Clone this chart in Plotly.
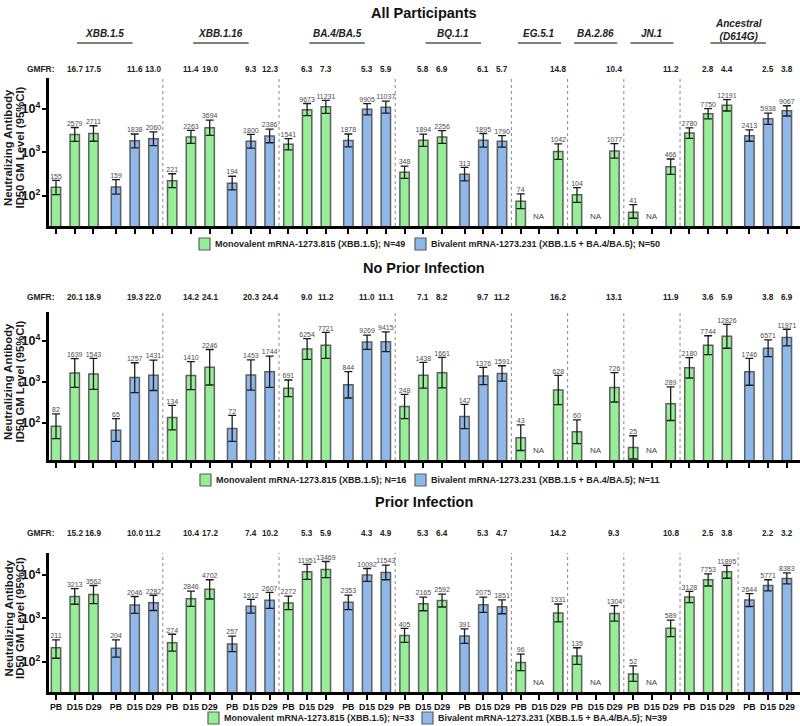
import plotly.graph_objects as go

# ---- data -------------------------------------------------------------
VARIANTS = ["XBB.1.5", "XBB.1.16", "BA.4/BA.5", "BQ.1.1", "EG.5.1", "BA.2.86", "JN.1",
            "Ancestral<br>(D614G)"]
TIMEPOINTS = ["PB", "D15", "D29"]
PANEL_TITLES = ["All Participants", "No Prior Infection", "Prior Infection"]
MONO_N = [49, 16, 33]
BIV_N = [50, 11, 39]

# All participants
ALL_MONO_GM = [[155, 2579, 2711], [221, 2263, 3694], [1541, 9673, 11231], [348, 1894, 2256],
               [74, None, 1042], [104, None, 1077], [41, None, 466], [2780, 7750, 12191]]
ALL_MONO_LO = [[105, 1780, 1800], [153, 1600, 2450], [1140, 7000, 7900], [250, 1370, 1600],
               [50, None, 690], [70, None, 730], [30, None, 310], [2100, 5900, 9000]]
ALL_MONO_HI = [[225, 3740, 4100], [320, 3200, 5550], [2080, 13400, 15900], [480, 2620, 3180],
               [110, None, 1570], [153, None, 1590], [62, None, 700], [3660, 10200, 16400]]
ALL_BIV_GM = [[159, 1838, 2060], [194, 1800, 2386], [1878, 9905, 11037], [313, 1895, 1790],
              None, None, None, [2413, 5938, 9067]]
ALL_BIV_LO = [[108, 1270, 1430], [135, 1250, 1660], [1330, 7350, 8000], [218, 1320, 1320],
              None, None, None, [1800, 4400, 6900]]
ALL_BIV_HI = [[235, 2650, 2970], [280, 2600, 3430], [2650, 13300, 15200], [450, 2720, 2420],
              None, None, None, [3280, 8000, 11900]]
ALL_MONO_GMFR = [[16.7, 17.5], [11.4, 19.0], [6.3, 7.3], [5.8, 6.9],
                 [None, 14.8], [None, 10.4], [None, 11.2], [2.8, 4.4]]
ALL_BIV_GMFR = [[11.6, 13.0], [9.3, 12.3], [5.3, 5.9], [6.1, 5.7], None, None, None, [2.5, 3.8]]

# No prior infection
NPI_MONO_GM = [[82, 1639, 1543], [134, 1410, 2246], [691, 6254, 7721], [248, 1438, 1661],
               [43, None, 628], [60, None, 726], [25, None, 289], [2180, 7744, 12826]]
NPI_MONO_LO = [[41, 730, 650], [67, 640, 830], [430, 3500, 3700], [125, 700, 710],
               [21, None, 275], [31, None, 320], [13, None, 113], [1230, 4550, 6550]]
NPI_MONO_HI = [[165, 3650, 3700], [265, 3080, 6100], [1100, 11200, 15900], [490, 2950, 3900],
               [88, None, 1430], [117, None, 1660], [48, None, 745], [3870, 13200, 25100]]
NPI_BIV_GM = [[65, 1257, 1431], [72, 1453, 1744], [844, 9269, 9415], [142, 1376, 1591],
              None, None, None, [1746, 6571, 11971]]
NPI_BIV_LO = [[35, 540, 610], [35, 620, 730], [400, 6150, 5400], [72, 850, 1030],
              None, None, None, [820, 4100, 7500]]
NPI_BIV_HI = [[125, 2900, 3350], [150, 3400, 4200], [1760, 13600, 16400], [280, 2230, 2450],
              None, None, None, [3720, 10500, 19000]]
NPI_MONO_GMFR = [[20.1, 18.9], [14.2, 24.1], [9.0, 11.2], [7.1, 8.2],
                 [None, 16.2], [None, 13.1], [None, 11.9], [3.6, 5.9]]
NPI_BIV_GMFR = [[19.3, 22.0], [20.3, 24.4], [11.0, 11.1], [9.7, 11.2], None, None, None, [3.8, 6.9]]

# Prior infection
PI_MONO_GM = [[211, 3213, 3562], [274, 2846, 4702], [2272, 11951, 13469], [405, 2165, 2592],
              [96, None, 1331], [135, None, 1304], [52, None, 589], [3128, 7753, 11895]]
PI_MONO_LO = [[120, 2120, 2200], [175, 1900, 2800], [1600, 8000, 8700], [280, 1500, 1830],
              [62, None, 830], [87, None, 860], [35, None, 380], [2320, 5600, 8450]]
PI_MONO_HI = [[320, 4850, 5750], [430, 4250, 7800], [3250, 17700, 20600], [590, 3100, 3650],
              [150, None, 2150], [210, None, 1980], [80, None, 910], [4220, 10700, 16800]]
PI_BIV_GM = [[204, 2046, 2282], [257, 1912, 2607], [2353, 10092, 11543], [391, 2075, 1851],
             None, None, None, [2644, 5771, 8383]]
PI_BIV_LO = [[128, 1300, 1520], [170, 1320, 1700], [1600, 7150, 7800], [265, 1380, 1280],
             None, None, None, [1880, 4300, 6250]]
PI_BIV_HI = [[320, 3200, 3420], [390, 2750, 4000], [3450, 14200, 17000], [575, 3100, 2680],
             None, None, None, [3720, 7800, 11300]]
PI_MONO_GMFR = [[15.2, 16.9], [10.4, 17.2], [5.3, 5.9], [5.3, 6.4],
                [None, 14.2], [None, 9.3], [None, 10.8], [2.5, 3.8]]
PI_BIV_GMFR = [[10.0, 11.2], [7.4, 10.2], [4.3, 4.9], [5.3, 4.7], None, None, None, [2.2, 3.2]]

# ---- styling ----------------------------------------------------------
W, H = 800, 726
GREEN = "#96EE96"
BLUE = "#8FB8EA"
EDGE = "#5f5f5f"
FONT = "Liberation Sans, Arial, sans-serif"


def px(v):
    return v / W


def py(v):
    return 1 - v / H


def note(**kw):
    # annotations: always centre-anchored unless told otherwise
    d = dict(showarrow=False, xanchor="center", yanchor="middle")
    d.update(kw)
    return d


panels = [
    dict(mono=(ALL_MONO_GM, ALL_MONO_LO, ALL_MONO_HI), biv=(ALL_BIV_GM, ALL_BIV_LO, ALL_BIV_HI),
         gmfr=(ALL_MONO_GMFR, ALL_BIV_GMFR), top=78, bot=226, yr=[1.298, 4.716],
         title_y=13, gmfr_y=69, legend_y=244, leg_x=(199, 415), extra_sep=False),
    dict(mono=(NPI_MONO_GM, NPI_MONO_LO, NPI_MONO_HI), biv=(NPI_BIV_GM, NPI_BIV_LO, NPI_BIV_HI),
         gmfr=(NPI_MONO_GMFR, NPI_BIV_GMFR), top=312, bot=460, yr=[1.09, 4.70],
         title_y=268, gmfr_y=297, legend_y=480, leg_x=(200, 415), extra_sep=False),
    dict(mono=(PI_MONO_GM, PI_MONO_LO, PI_MONO_HI), biv=(PI_BIV_GM, PI_BIV_LO, PI_BIV_HI),
         gmfr=(PI_MONO_GMFR, PI_BIV_GMFR), top=553, bot=692, yr=[1.30, 4.51],
         title_y=502, gmfr_y=533, legend_y=718, leg_x=(208, 422), extra_sep=True),
]

# slot layout: 3 mono slots, then 3 biv slots (if any) for each variant
groups = []
s = 0.0
for i in range(len(VARIANTS)):
    mono_x = [s, s + 1, s + 2]
    if ALL_BIV_GM[i] is not None:
        biv_x = [s + 3.2, s + 4.2, s + 5.2]
        end = s + 5.2
    else:
        biv_x = None
        end = s + 2
    groups.append(dict(mono_x=mono_x, biv_x=biv_x, start=s, end=end))
    s = end + 1

tick_vals, tick_text = [], []
for g in groups:
    for xs in (g["mono_x"], g["biv_x"]):
        if xs:
            tick_vals += xs
            tick_text += TIMEPOINTS

X_RANGE = [(49 - 56) / 18.74, (800 - 56) / 18.74]

fig = go.Figure()
shapes, annotations = [], []

for k, p in enumerate(panels):
    sfx = "" if k == 0 else str(k + 1)
    xa, ya = "x" + sfx, "y" + sfx

    for (gm, lo, hi), key, color in ((p["mono"], "mono_x", GREEN), (p["biv"], "biv_x", BLUE)):
        xs, ys, ep, em = [], [], [], []
        for i, g in enumerate(groups):
            if gm[i] is None:
                continue
            for j in range(3):
                if gm[i][j] is None:
                    continue
                xs.append(g[key][j])
                ys.append(gm[i][j])
                ep.append(hi[i][j] - gm[i][j])
                em.append(gm[i][j] - lo[i][j])
        fig.add_trace(go.Bar(
            x=xs, y=ys, width=0.5, xaxis=xa, yaxis=ya, showlegend=False,
            marker=dict(color=color, line=dict(color=EDGE, width=1.5)),
            error_y=dict(type="data", symmetric=False, array=ep, arrayminus=em,
                         color="#1c1c1c", thickness=1.3, width=4),
        ))
        fig.add_trace(go.Scatter(
            x=xs, y=[y + e for y, e in zip(ys, ep)], mode="text", xaxis=xa, yaxis=ya,
            text=[str(v) for v in ys], textposition="top center", showlegend=False,
            textfont=dict(family=FONT, size=7, color="#4d4d4d"), hoverinfo="skip",
        ))

    # NA markers in empty D15 slots
    gm_mono = p["mono"][0]
    for i, g in enumerate(groups):
        for j in range(3):
            if gm_mono[i][j] is None:
                annotations.append(note(
                    x=g["mono_x"][j], y=0, xref=xa, yref=ya + " domain", yanchor="bottom",
                    yshift=3, text="NA", font=dict(family=FONT, size=8, color="#444")))

    # group separators
    seps = [g["end"] + 0.5 for g in groups[:-1]]
    if p["extra_sep"]:
        last = groups[-1]
        seps.append((last["mono_x"][2] + last["biv_x"][0]) / 2)
    for sx in seps:
        shapes.append(dict(type="line", xref=xa, yref=ya + " domain", x0=sx, x1=sx, y0=0, y1=1,
                           line=dict(color="#8a8a8a", width=1, dash="dot")))

    # GMFR row
    annotations.append(note(x=px(40), y=py(p["gmfr_y"]), xref="paper", yref="paper",
                            text="<b>GMFR:</b>", font=dict(family=FONT, size=8.4, color="#222")))
    for fr_list, key in ((p["gmfr"][0], "mono_x"), (p["gmfr"][1], "biv_x")):
        for i, g in enumerate(groups):
            if fr_list[i] is None:
                continue
            for j, v in enumerate(fr_list[i]):
                if v is None:
                    continue
                annotations.append(note(
                    x=g[key][j + 1], y=py(p["gmfr_y"]), xref=xa, yref="paper",
                    text="<b>%.1f</b>" % v, font=dict(family=FONT, size=8.2, color="#222")))

    # panel title
    annotations.append(note(x=px(424), y=py(p["title_y"]), xref="paper", yref="paper",
                            text="<b>%s</b>" % PANEL_TITLES[k],
                            font=dict(family=FONT, size=14.5, color="#111")))

    # y-axis title (two lines)
    yc = py((p["top"] + p["bot"]) / 2 - 4)
    for line, xx in (("Neutralizing Antibody", 8), ("ID50 GM Level (95%CI)", 19.5)):
        annotations.append(note(x=px(xx), y=yc, xref="paper", yref="paper", textangle=-90,
                                text="<b>%s</b>" % line,
                                font=dict(family=FONT, size=11.3, color="#1a1a1a")))

    # legend
    ly = p["legend_y"]
    for (x0, name, n, color) in ((p["leg_x"][0], "Monovalent mRNA-1273.815 (XBB.1.5)", MONO_N[k], GREEN),
                                 (p["leg_x"][1], "Bivalent mRNA-1273.231 (XBB.1.5 + BA.4/BA.5)", BIV_N[k], BLUE)):
        shapes.append(dict(type="rect", xref="paper", yref="paper",
                           x0=px(x0), x1=px(x0 + 11), y0=py(ly + 6), y1=py(ly - 6),
                           fillcolor=color, line=dict(color=EDGE, width=1.2)))
        annotations.append(note(x=px(x0 + 14), y=py(ly), xref="paper", yref="paper",
                                xanchor="left", text="<b>%s; N=%d</b>" % (name, n),
                                font=dict(family=FONT, size=9.0, color="#222")))

    axis_common = dict(showline=True, linecolor="black", linewidth=2.5, ticks="outside",
                       tickcolor="black", tickwidth=2, showgrid=False, zeroline=False)
    fig.update_layout({
        "xaxis" + sfx: dict(axis_common, domain=[px(49), 1], range=X_RANGE, anchor=ya,
                            tickmode="array", tickvals=tick_vals, ticktext=tick_text,
                            ticklen=5, showticklabels=(k == 2), tickangle=0,
                            tickfont=dict(family=FONT, size=8.8, color="#111", weight="bold")),
        "yaxis" + sfx: dict(axis_common, type="log", range=p["yr"], anchor=xa,
                            domain=[py(p["bot"]), py(p["top"])], dtick=1,
                            exponentformat="power", ticklen=4,
                            tickfont=dict(family=FONT, size=10, color="#111", weight="bold")),
    })

# variant headers (top panel only)
for i, g in enumerate(groups):
    c = (g["start"] + g["end"]) / 2
    hw = 1.48 if g["biv_x"] else 1.15
    shapes.append(dict(type="line", xref="x", yref="paper", x0=c - hw, x1=c + hw,
                       y0=py(43), y1=py(43), line=dict(color="#555", width=1.5)))
    bottom = 44 if "<br>" in VARIANTS[i] else 41
    annotations.append(note(x=c, y=py(bottom), xref="x", yref="paper", yanchor="bottom",
                            text="<b><i>%s</i></b>" % VARIANTS[i],
                            font=dict(family=FONT, size=10, color="#222")))

fig.update_layout(
    width=W, height=H, margin=dict(l=0, r=0, t=0, b=0),
    paper_bgcolor="white", plot_bgcolor="white", barmode="overlay",
    shapes=shapes, annotations=annotations, font=dict(family=FONT),
)

fig.write_html("out.html", config={"displayModeBar": False},
               post_script="document.body.style.margin='0px';")
